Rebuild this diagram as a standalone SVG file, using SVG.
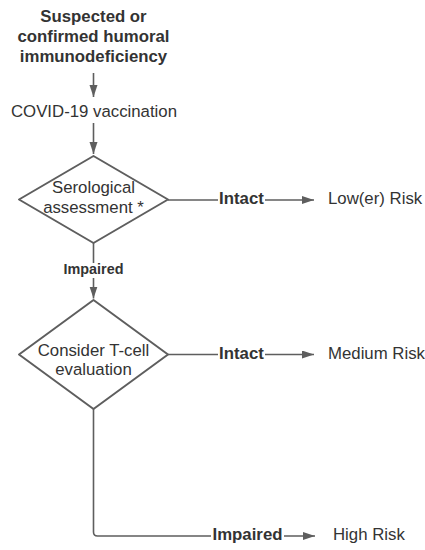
<svg xmlns="http://www.w3.org/2000/svg" width="425" height="550" viewBox="0 0 425 550">
<style>
text{font-family:"Liberation Sans",Arial,sans-serif;fill:#333333;font-size:16.8px}
.b{font-weight:bold}
.c{text-anchor:middle}
.shape{fill:#ffffff;stroke:#5e5e5e;stroke-width:2;stroke-linejoin:round}
.edge{fill:none;stroke:#5e5e5e;stroke-width:1.6}
.bg{fill:#ffffff}
</style>
<defs>
<marker id="ah" markerUnits="userSpaceOnUse" markerWidth="14" markerHeight="10" refX="12" refY="4" orient="auto">
<path d="M0,0 L12,4 L0,8 Z" fill="#5e5e5e"/>
</marker>
</defs>
<rect width="425" height="550" fill="#ffffff"/>
<g id="connectors">
<line class="edge" x1="93.5" y1="73" x2="93.5" y2="97" marker-end="url(#ah)"/>
<line class="edge" x1="93.5" y1="123" x2="93.5" y2="154" marker-end="url(#ah)"/>
<g id="e-sero-intact">
<line class="edge" x1="168" y1="200" x2="314" y2="200" marker-end="url(#ah)"/>
<rect class="bg" x="218" y="190" width="47" height="18"/>
<text class="b c" x="241.5" y="204">Intact</text>
</g>
<g id="e-sero-impaired">
<line class="edge" x1="93.5" y1="243" x2="93.5" y2="298.5" marker-end="url(#ah)"/>
<rect class="bg" x="62" y="263" width="63" height="15"/>
<text class="b c" x="93.5" y="274" style="font-size:14.4px">Impaired</text>
</g>
<g id="e-tcell-intact">
<line class="edge" x1="168" y1="354.5" x2="314" y2="354.5" marker-end="url(#ah)"/>
<rect class="bg" x="218" y="344" width="47" height="18"/>
<text class="b c" x="241.5" y="358.5">Intact</text>
</g>
<g id="e-tcell-impaired">
<path class="edge" d="M93.5,409 V532 Q93.5,536 97.5,536 H315" marker-end="url(#ah)"/>
<rect class="bg" x="211" y="526" width="73" height="18"/>
<text class="b c" x="247.5" y="540">Impaired</text>
</g>
</g>
<g id="n-start">
<text class="b c" x="93.5" y="22">Suspected or</text>
<text class="b c" x="93.5" y="42">confirmed humoral</text>
<text class="b c" x="93.5" y="62">immunodeficiency</text>
</g>
<g id="n-vacc">
<text class="c" x="94" y="117">COVID-19 vaccination</text>
</g>
<g id="n-sero">
<polygon class="shape" points="93.5,156 168,199.5 93.5,243 19,199.5"/>
<text class="c" x="93.5" y="193">Serological</text>
<text class="c" x="93.5" y="213">assessment *</text>
</g>
<g id="n-tcell">
<polygon class="shape" points="93.5,300 168,354.5 93.5,409 19,354.5"/>
<text class="c" x="93.5" y="356">Consider T-cell</text>
<text class="c" x="93.5" y="375">evaluation</text>
</g>
<g id="n-low"><text x="328" y="204">Low(er) Risk</text></g>
<g id="n-medium"><text x="328" y="358.5">Medium Risk</text></g>
<g id="n-high"><text x="333" y="540">High Risk</text></g>
</svg>
